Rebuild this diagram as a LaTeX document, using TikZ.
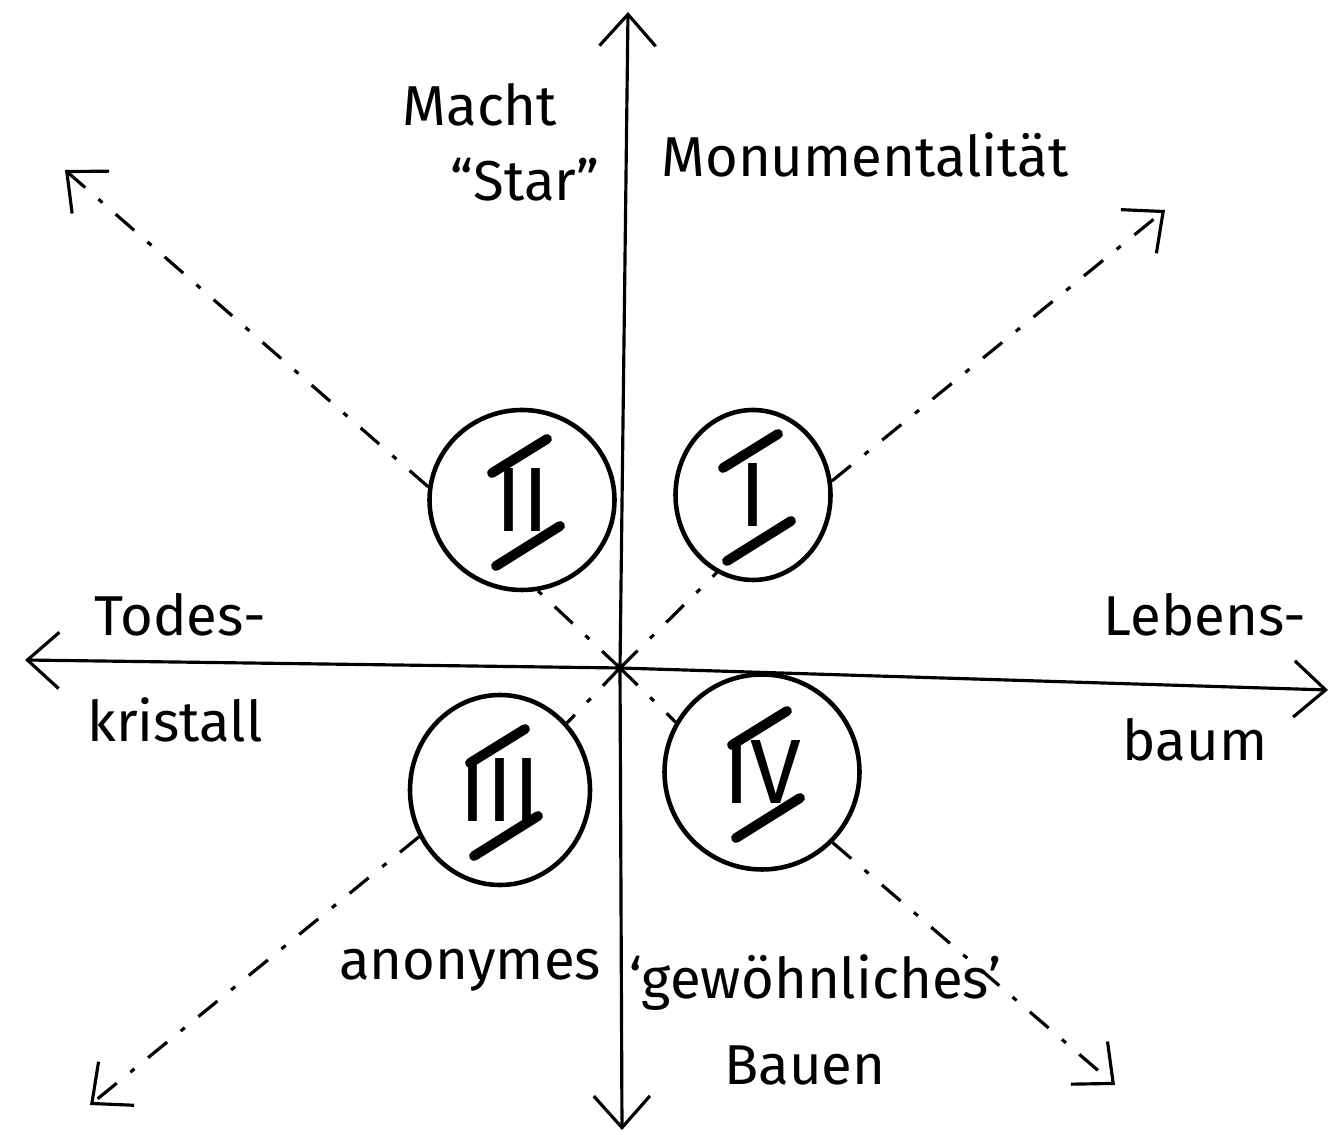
\documentclass[tikz,border=0pt]{standalone}
\usepackage{fontspec}
\setmainfont{Fira Sans}
\usetikzlibrary{arrows.meta,shapes.geometric}

\newcommand*{\xmin}{0.25}
\newcommand*{\xmax}{13.28}
\newcommand*{\ymin}{0.05}
\newcommand*{\ymax}{11.23}

\begin{document}
\begin{tikzpicture}
[
	>={Straight Barb[length=9pt,width=16pt]},
	axis/.style={line width=0.9pt},
	diag/.style={line width=0.9pt,dash pattern=on 7pt off 5pt on 1.5pt off 5pt},
	quad/.style={ellipse,draw,line width=1.3pt,inner sep=0pt,
		font=\fontsize{26}{30}\selectfont},
	bar/.style={line width=2.8pt,line cap=round},
	lbl/.style={font=\fontsize{16}{19}\selectfont}
]
	\useasboundingbox (0,0) rectangle (13.31,11.35);

	% origin and axis ends
	\coordinate (o) at (6.20,4.67);
	\coordinate (west) at (\xmin,4.75);
	\coordinate (east) at (\xmax,4.45);
	\coordinate (south) at (6.22,\ymin);
	\coordinate (north) at (6.28,\ymax);

	% axes
	\draw[<->,axis] (west) -- (o) -- (east);
	\draw[<->,axis] (south) -- (o) -- (north);

	% quadrants
	\node[quad,minimum width=1.55cm,minimum height=1.70cm] (q1) at (7.53,6.40) {I};
	\node[quad,minimum width=1.85cm,minimum height=1.80cm] (q2) at (5.22,6.35) {II};
	\node[quad,minimum width=1.80cm,minimum height=1.90cm] (q3) at (5.00,3.45) {III};
	\node[quad,minimum width=1.95cm,minimum height=1.95cm] (q4) at (7.62,3.63) {IV};

	% bars over and under the numerals
	\foreach \q in {q1,q2,q3,q4} {
		\draw[bar] ([shift={(-0.30,0.27)}]\q.center) -- ++(0.55,0.34);
		\draw[bar] ([shift={(-0.26,-0.66)}]\q.center) -- ++(0.64,0.40);
	}

	% diagonal ends
	\coordinate (ne) at (11.65,9.25);
	\coordinate (nw) at (0.65,9.65);
	\coordinate (sw) at (0.90,0.30);
	\coordinate (se) at (11.15,0.50);

	% diagonals
	\draw[diag] (o) -- (q1.-115);
	\draw[diag,->] (q1.10) -- (ne);
	\draw[diag] (o) -- (q2.-80);
	\draw[diag,->] (q2.172) -- (nw);
	\draw[diag] (o) -- (q3.45);
	\draw[diag,->] (q3.210) -- (sw);
	\draw[diag] (o) -- (q4.150);
	\draw[diag,->] (q4.-45) -- (se);

	% labels
	\node[lbl] (macht) at (4.80,10.30) {Macht};
	\node[lbl] (star) at (5.25,9.55) {``Star''};
	\node[lbl] (monu) at (8.65,9.80) {Monumentalität};
	\node[lbl] (todes) at (1.80,5.20) {Todes-};
	\node[lbl] (kristall) at (1.75,4.15) {kristall};
	\node[lbl] (lebens) at (12.05,5.20) {Lebens-};
	\node[lbl] (baum) at (11.95,3.95) {baum};
	\node[lbl] (anonym) at (4.70,1.65) {anonymes};
	\node[lbl] (gewoehn) at (8.15,1.52) {`gewöhnliches'};
	\node[lbl] (bauen) at (8.05,0.70) {Bauen};

\end{tikzpicture}
\end{document}
